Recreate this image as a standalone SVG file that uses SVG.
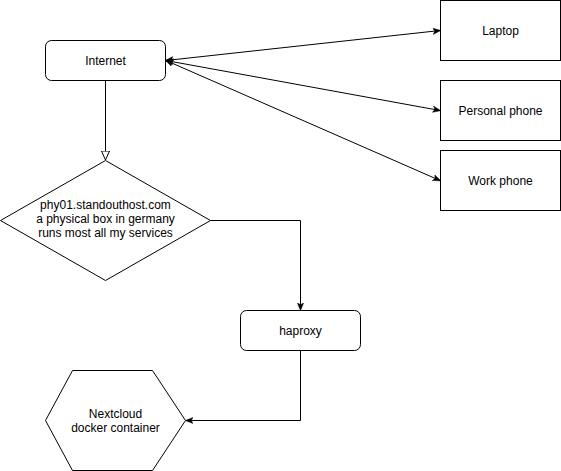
<svg xmlns="http://www.w3.org/2000/svg" width="561" height="471" viewBox="0 0 561 471">
<style>
.n{fill:#fff;stroke:#000;stroke-width:1}
.t{font-family:"Liberation Sans",Arial,sans-serif;font-size:12px;fill:#000;text-anchor:middle;dominant-baseline:central}
.c{fill:none;stroke:#000;stroke-width:1}
</style>
<defs>
<marker id="a" viewBox="0 0 10 10" refX="9" refY="5" markerWidth="8" markerHeight="8" orient="auto-start-reverse" markerUnits="userSpaceOnUse">
<path d="M0,1 L10,5 L0,9 L2.5,5 Z" fill="#000" stroke="#000" stroke-width="0.5"/>
</marker>
<marker id="o" viewBox="0 0 10 10" refX="9.5" refY="5" markerWidth="10" markerHeight="10" orient="auto" markerUnits="userSpaceOnUse">
<path d="M0.5,1 L9.5,5 L0.5,9 Z" fill="#fff" stroke="#000" stroke-width="1"/>
</marker>
</defs>
<rect width="561" height="471" fill="#fff"/>
<g id="connectors">
<path class="c" d="M105.5,80.5 V160" marker-end="url(#o)"/>
<path class="c" d="M166,60.5 L440,30.5" marker-start="url(#a)" marker-end="url(#a)"/>
<path class="c" d="M166,60.5 L440,110.5" marker-start="url(#a)" marker-end="url(#a)"/>
<path class="c" d="M166,60.5 L440,180.5" marker-start="url(#a)" marker-end="url(#a)"/>
<path class="c" d="M210,220.5 H300.5 V310" marker-end="url(#a)"/>
<path class="c" d="M300.5,350.5 V420.5 H186" marker-end="url(#a)"/>
</g>
<g id="internet">
<rect class="n" x="45.5" y="40.5" width="120" height="40" rx="6"/>
<text class="t" x="105.5" y="60.5">Internet</text>
</g>
<g id="laptop">
<rect class="n" x="440.5" y="0.5" width="120" height="60"/>
<text class="t" x="500.5" y="30.5">Laptop</text>
</g>
<g id="personal-phone">
<rect class="n" x="440.5" y="80.5" width="120" height="60"/>
<text class="t" x="500.5" y="110.5">Personal phone</text>
</g>
<g id="work-phone">
<rect class="n" x="440.5" y="150.5" width="120" height="60"/>
<text class="t" x="500.5" y="180.5">Work phone</text>
</g>
<g id="phy01">
<polygon class="n" points="105.5,160.5 210.5,220.5 105.5,280.5 0.5,220.5"/>
<text class="t" x="105.5" y="205">phy01.standouthost.com</text>
<text class="t" x="105.5" y="219">a physical box in germany</text>
<text class="t" x="105.5" y="233">runs most all my services</text>
</g>
<g id="haproxy">
<rect class="n" x="240.5" y="310.5" width="120" height="40" rx="6"/>
<text class="t" x="300.5" y="330.5">haproxy</text>
</g>
<g id="nextcloud">
<polygon class="n" points="45.5,420.5 72.5,370.5 152.5,370.5 185.5,420.5 152.5,470.5 72.5,470.5"/>
<text class="t" x="115.5" y="414">Nextcloud</text>
<text class="t" x="115.5" y="428">docker container</text>
</g>
</svg>
